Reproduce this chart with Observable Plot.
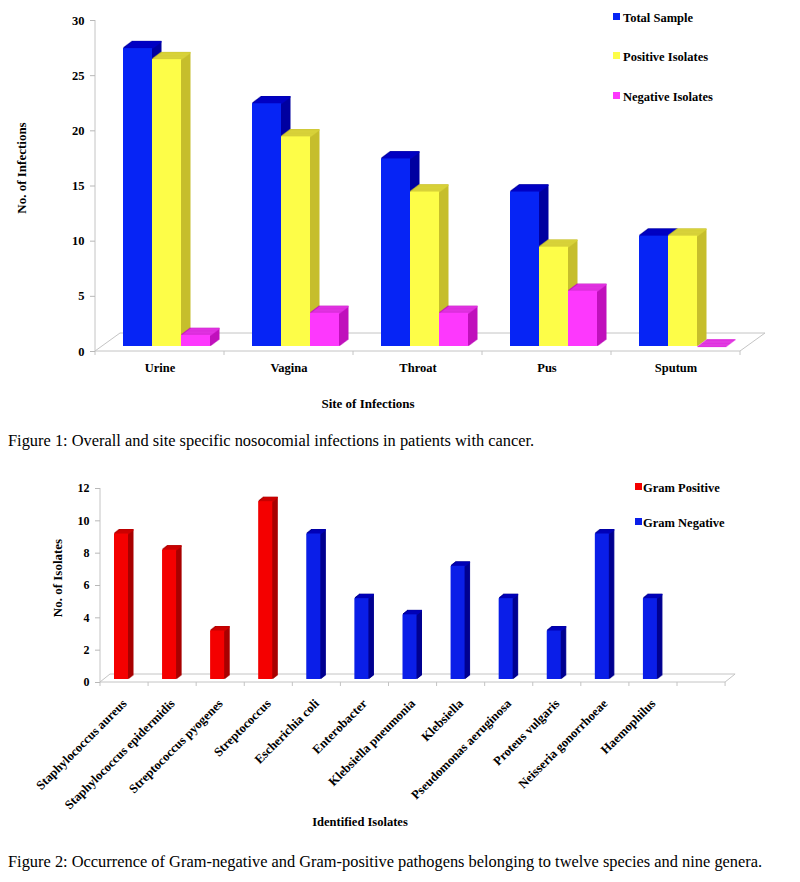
<!DOCTYPE html>
<html><head><meta charset="utf-8">
<script src="https://cdn.jsdelivr.net/npm/d3@7"></script>
<script src="https://cdn.jsdelivr.net/npm/@observablehq/plot@0.6"></script>
<style>
body{margin:0;background:#fff;}
#wrap{position:relative;width:800px;height:882px;overflow:hidden;font-family:"Liberation Serif","Times New Roman",serif;color:#000;}
.abs{position:absolute;white-space:nowrap;}
.c{transform:translate(-50%,-50%);}
.rot{transform:translate(-50%,-50%) rotate(-90deg);}
.b{font-weight:bold;}
.cap{font-size:16.4px;}
.leg{font-size:12.5px;font-weight:bold;transform:translateY(-50%);}
.sw{position:absolute;width:7px;height:7px;}
svg{position:absolute;left:0;}
</style></head><body><div id="wrap"></div>
<script>
// ---------- Figure 1 data ----------
const sites = ["Urine", "Vagina", "Throat", "Pus", "Sputum"];
const seriesNames = ["Total Sample", "Positive Isolates", "Negative Isolates"];
const totalSample = [27, 22, 17, 14, 10];
const positiveIsolates = [26, 19, 14, 9, 10];
const negativeIsolates = [1, 3, 3, 5, 0];
const yTicks1 = [0, 5, 10, 15, 20, 25, 30];

// ---------- Figure 2 data ----------
const isolates = ["Staphylococcus aureus", "Staphylococcus epidermidis", "Streptococcus pyogenes", "Streptococcus",
  "Escherichia coli", "Enterobacter", "Klebsiella pneumonia", "Klebsiella", "Pseudomonas aeruginosa",
  "Proteus vulgaris", "Neisseria gonorrhoeae", "Haemophilus"];
const isolateCounts = [9, 8, 3, 11, 9, 5, 4, 7, 5, 3, 9, 5];
const gramGroup = ["Gram Positive", "Gram Positive", "Gram Positive", "Gram Positive",
  "Gram Negative", "Gram Negative", "Gram Negative", "Gram Negative", "Gram Negative",
  "Gram Negative", "Gram Negative", "Gram Negative"];
const gramNames = ["Gram Positive", "Gram Negative"];
const yTicks2 = [0, 2, 4, 6, 8, 10, 12];

const FONT = "Liberation Serif, Times New Roman, serif";
const W = 800;
const wrap = document.getElementById("wrap");

function addDiv(cls, text, left, top, extra) {
  const d = document.createElement("div");
  d.className = "abs " + cls;
  d.textContent = text;
  d.style.left = left + "px";
  d.style.top = top + "px";
  if (extra) Object.assign(d.style, extra);
  wrap.appendChild(d);
  return d;
}

// 3D bar marks: stacked offset copies for depth (side), top edges, then front face
function bars3d(rows, o) {
  const marks = [];
  for (let k = o.depth; k >= 1; k--) {
    marks.push(Plot.barY(rows, {x: o.x, y: o.y, fill: o.side, stroke: o.side, strokeWidth: 1,
      insetLeft: o.insetLeft, insetRight: o.insetRight, dx: k, dy: -o.lift - k * o.rise}));
  }
  for (let k = o.depth; k >= 0; k--) {
    marks.push(Plot.tickY(rows, {x: o.x, y: o.y, stroke: o.top, strokeWidth: 1.2,
      insetLeft: o.insetLeft + 0.5, insetRight: o.insetRight - 0.5, dx: k, dy: -o.lift - k * o.rise}));
  }
  marks.push(Plot.barY(rows, {x: o.x, y: o.y, fill: o.front,
    insetLeft: o.insetLeft, insetRight: o.insetRight, dy: -o.lift}));
  return marks;
}

// floor / axis decoration drawn with the plot's own scales
function drawFloor(plot, f) {
  const x = plot.scale("x"), y = plot.scale("y");
  const y0 = y.apply(0), yTop = y.apply(y.domain[1]);
  const [xa, xb] = x.range;
  const step = (xb - xa) / x.domain.length;
  const xEnd = xb + f.extraBands * step;
  const g = d3.select(plot).insert("g", "g").attr("stroke", "#c4c4c4").attr("fill", "none").attr("stroke-width", 1);
  const seg = (x1, y1, x2, y2) => g.append("line").attr("x1", x1).attr("y1", y1).attr("x2", x2).attr("y2", y2);
  seg(xa, yTop, xa, y0);
  seg(xa, y0, xEnd, y0);
  seg(xa + f.dx, y0 - f.dy, xEnd + f.dx, y0 - f.dy);
  seg(xa, y0, xa + f.dx, y0 - f.dy);
  seg(xEnd, y0, xEnd + f.dx, y0 - f.dy);
  for (let i = 0; i <= x.domain.length + f.extraBands; i++) seg(xa + i * step, y0, xa + i * step, y0 + 4);
}

// ---------- Figure 1 ----------
{
  const ml = 95, mr = 60, mt = 20, mb = 64, h = 415;
  const values = [totalSample, positiveIsolates, negativeIsolates];
  const colors = {
    "Total Sample": {front: "#0624f5", side: "#0000a0", top: "#0000c4"},
    "Positive Isolates": {front: "#fdfd48", side: "#c6be2c", top: "#d8d23a"},
    "Negative Isolates": {front: "#fd38fd", side: "#c010bc", top: "#e032e0"}
  };
  const bandW = (W - ml - mr) / sites.length;
  const barW = 29, lead = 28;
  const marks = [];
  seriesNames.forEach((name, j) => {
    const rows = sites.map((s, i) => ({site: s, value: values[j][i]}));
    const insetLeft = lead + j * barW;
    marks.push(...bars3d(rows, {x: "site", y: "value", front: colors[name].front, side: colors[name].side,
      top: colors[name].top, insetLeft, insetRight: bandW - insetLeft - barW, depth: 9, rise: 0.75, lift: 5}));
  });
  marks.push(Plot.axisY({ticks: yTicks1, tickSize: 5, tickPadding: 6, stroke: "#b8b8b8", fill: "#000",
    fontWeight: "bold", fontSize: 12.5, fontFamily: FONT, label: null}));
  marks.push(Plot.axisX({tickSize: 0, tickPadding: 12, fontWeight: "bold", fontSize: 12.5, fontFamily: FONT, label: null}));
  const p1 = Plot.plot({
    width: W, height: h, marginLeft: ml, marginRight: mr, marginTop: mt, marginBottom: mb,
    style: {fontFamily: FONT, background: "transparent", overflow: "visible"},
    x: {domain: sites, padding: 0, round: false},
    y: {domain: [0, 30]},
    marks
  });
  drawFloor(p1, {dx: 25, dy: 18, extraBands: 0});
  p1.style.top = "0px";
  wrap.appendChild(p1);

  addDiv("b rot", "No. of Infections", 22, 168, {fontSize: "13px"});
  addDiv("b c", "Site of Infections", 368, 404, {fontSize: "13px"});
  const legY = [18, 57, 97];
  seriesNames.forEach((name, j) => {
    const sw = document.createElement("div");
    sw.className = "sw";
    sw.style.left = "613px"; sw.style.top = (legY[j] - 5) + "px";
    sw.style.background = colors[name].front;
    wrap.appendChild(sw);
    addDiv("leg", name, 623, legY[j]);
  });
  addDiv("cap", "Figure 1: Overall and site specific nosocomial infections in patients with cancer.", 8, 431);
}

// ---------- Figure 2 ----------
{
  const top = 470, ml = 100, mr = 123, mt = 18, mb = 148, h = 360;
  const colors = {
    "Gram Positive": {front: "#f40000", side: "#a80000", top: "#cc0000"},
    "Gram Negative": {front: "#0a1ee8", side: "#000090", top: "#0000b8"}
  };
  const bandW = (W - ml - mr) / isolates.length;
  const barW = 14, lead = 14;
  const marks = [];
  gramNames.forEach(name => {
    const rows = isolates.map((s, i) => ({isolate: s, value: isolateCounts[i], group: gramGroup[i]}))
      .filter(d => d.group === name);
    marks.push(...bars3d(rows, {x: "isolate", y: "value", front: colors[name].front, side: colors[name].side,
      top: colors[name].top, insetLeft: lead, insetRight: bandW - lead - barW, depth: 5, rise: 0.8, lift: 3}));
  });
  marks.push(Plot.axisY({ticks: yTicks2, tickSize: 5, tickPadding: 6, stroke: "#b8b8b8", fill: "#000",
    fontWeight: "bold", fontSize: 12, fontFamily: FONT, label: null}));
  marks.push(Plot.axisX({tickSize: 0, tickPadding: 19, tickRotate: -45, fontWeight: "bold", fontSize: 12.6,
    fontFamily: FONT, label: null}));
  const p2 = Plot.plot({
    width: W, height: h, marginLeft: ml, marginRight: mr, marginTop: mt, marginBottom: mb,
    style: {fontFamily: FONT, background: "transparent", overflow: "visible"},
    x: {domain: isolates, padding: 0, round: false},
    y: {domain: [0, 12]},
    marks
  });
  drawFloor(p2, {dx: 10, dy: 8, extraBands: 1});
  p2.style.top = top + "px";
  wrap.appendChild(p2);

  addDiv("b rot", "No. of Isolates", 58, 578, {fontSize: "13px"});
  addDiv("b c", "Identified Isolates", 360, 822, {fontSize: "12.5px"});
  const legY = [488, 523];
  gramNames.forEach((name, j) => {
    const sw = document.createElement("div");
    sw.className = "sw";
    sw.style.left = "635px"; sw.style.top = (legY[j] - 5) + "px";
    sw.style.background = colors[name].front;
    wrap.appendChild(sw);
    addDiv("leg", name, 643, legY[j]);
  });
  addDiv("cap", "Figure 2: Occurrence of Gram-negative and Gram-positive pathogens belonging to twelve species and nine genera.", 8, 852);
}
</script></body></html>
